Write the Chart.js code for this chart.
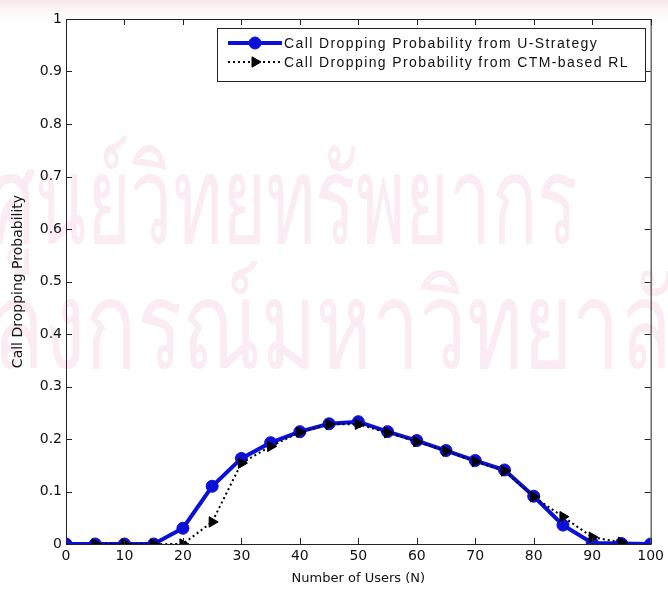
<!DOCTYPE html>
<html>
<head>
<meta charset="utf-8">
<script src="https://cdn.jsdelivr.net/npm/chart.js@4/dist/chart.umd.min.js"></script>
<style>
  html, body { margin: 0; padding: 0; background: #fff; }
  #wrap { width: 668px; height: 593px; }
</style>
</head>
<body>
<div id="wrap"><canvas id="cdp"></canvas></div>
<script>
var users = [0, 5, 10, 15, 20, 25, 30, 35, 40, 45, 50, 55, 60, 65, 70, 75, 80, 85, 90, 95, 100];
var uStrategy = [0, 0, 0, 0, 0.030, 0.110, 0.163, 0.193, 0.214, 0.229, 0.233, 0.214, 0.197, 0.178, 0.159, 0.141, 0.091, 0.036, 0.002, 0.001, 0];
var ctmRL = [null, 0, 0, 0, 0, 0.042, 0.154, 0.186, 0.213, 0.228, 0.228, 0.212, 0.195, 0.177, 0.157, 0.139, 0.090, 0.052, 0.013, 0.003, null];
var seriesNames = ['Call Dropping Probability from U-Strategy', 'Call Dropping Probability from CTM-based RL'];
var watermarkLines = ['ศูนย์วิทยทรัพยากร', 'จุฬาลงกรณ์มหาวิทยาลัย'];

var FONT = '"DejaVu Sans", "Liberation Sans", Arial, sans-serif';
var LEG_FONT = '14px "Liberation Sans", Arial, Helvetica, sans-serif';

function pts(ys) {
  return users.map(function (x, i) { return { x: x, y: ys[i] }; });
}

// faint watermark of the source document
var watermark = {
  id: 'watermark',
  beforeDraw: function (chart) {
    var c = chart.ctx;
    c.save();
    c.fillStyle = '#ffffff';
    c.fillRect(0, 0, chart.width, chart.height);
    var g = c.createLinearGradient(0, 0, 0, 28);
    g.addColorStop(0, '#f8e7ea');
    g.addColorStop(1, 'rgba(255,255,255,0)');
    c.fillStyle = g;
    c.fillRect(0, 0, chart.width, 28);
    c.fillStyle = '#faecf2';
    c.font = '122px "Noto Sans", "DejaVu Sans", sans-serif';
    c.textBaseline = 'alphabetic';
    // [x start, x end, baseline]
    var spots = [[-12, 578, 243], [-163, 721, 368]];
    watermarkLines.forEach(function (s, i) {
      var w = c.measureText(s).width;
      var p = spots[i];
      c.save();
      c.translate(p[0], p[2]);
      c.scale((p[1] - p[0]) / w, 1);
      c.fillText(s, 0, 0);
      c.restore();
    });
    c.restore();
  }
};

// MATLAB style box with inward ticks and a framed legend
var matlabBox = {
  id: 'matlabBox',
  afterDraw: function (chart) {
    var c = chart.ctx, a = chart.chartArea;
    var xs = chart.scales.x, ys = chart.scales.y;
    c.save();
    c.strokeStyle = '#222';
    c.lineWidth = 1;
    c.strokeRect(a.left + 0.5, a.top + 0.5, a.right - a.left, a.bottom - a.top);
    c.beginPath();
    xs.ticks.forEach(function (t) {
      var px = Math.round(xs.getPixelForValue(t.value)) + 0.5;
      c.moveTo(px, a.bottom); c.lineTo(px, a.bottom - 6);
      c.moveTo(px, a.top); c.lineTo(px, a.top + 6);
    });
    ys.ticks.forEach(function (t) {
      var py = Math.round(ys.getPixelForValue(t.value)) + 0.5;
      c.moveTo(a.left, py); c.lineTo(a.left + 6, py);
      c.moveTo(a.right, py); c.lineTo(a.right - 6, py);
    });
    c.stroke();

    // legend
    var bx = 217, by = 28, bw = 428, bh = 53;
    c.fillStyle = '#ffffff';
    c.fillRect(bx, by, bw, bh);
    c.strokeStyle = '#222';
    c.strokeRect(bx + 0.5, by + 0.5, bw, bh);
    var rows = [43, 62];
    chart.data.datasets.forEach(function (ds, i) {
      var y = rows[i];
      c.save();
      c.strokeStyle = ds.borderColor;
      c.lineWidth = ds.borderWidth;
      c.setLineDash(ds.borderDash || []);
      c.beginPath();
      c.moveTo(228, y); c.lineTo(282, y);
      c.stroke();
      c.restore();
      c.fillStyle = ds.pointBackgroundColor;
      c.strokeStyle = ds.pointBorderColor;
      c.lineWidth = 1;
      Chart.helpers.drawPoint(c, {
        pointStyle: ds.pointStyle, rotation: ds.pointRotation || 0,
        radius: ds.pointRadius, borderWidth: 1
      }, 255, y);
      c.fillStyle = '#111';
      c.font = LEG_FONT;
      c.letterSpacing = '1.4px';
      c.textBaseline = 'middle';
      c.fillText(ds.label, 284, y + 1);
      c.letterSpacing = '0px';
    });
    c.restore();
  }
};

new Chart(document.getElementById('cdp'), {
  type: 'line',
  data: {
    datasets: [{
      label: seriesNames[0],
      data: pts(uStrategy),
      borderColor: '#0a10d8',
      backgroundColor: '#0a10d8',
      borderWidth: 4,
      pointStyle: 'circle',
      pointRadius: 6,
      pointBorderWidth: 1,
      pointBackgroundColor: '#0a10d8',
      pointBorderColor: '#0a10d8',
      order: 2
    }, {
      label: seriesNames[1],
      data: pts(ctmRL),
      borderColor: '#000000',
      backgroundColor: '#000000',
      borderWidth: 2,
      borderDash: [2, 3],
      pointStyle: 'triangle',
      pointRotation: 90,
      pointRadius: 6,
      pointBorderWidth: 1,
      pointBackgroundColor: '#000000',
      pointBorderColor: '#000000',
      spanGaps: false,
      order: 1
    }]
  },
  options: {
    responsive: true,
    maintainAspectRatio: false,
    animation: false,
    layout: { padding: { left: 0, top: 19, right: 16, bottom: 0 } },
    plugins: { legend: { display: false }, tooltip: { enabled: false } },
    elements: { line: { tension: 0 } },
    scales: {
      x: {
        type: 'linear', min: 0, max: 100,
        grid: { display: false, drawTicks: false },
        border: { display: false },
        ticks: { stepSize: 10, padding: 4, color: '#111', font: { family: FONT, size: 14 } },
        title: { display: true, text: 'Number of Users (N)', color: '#111', padding: { top: 2, bottom: 7 }, font: { family: FONT, size: 13 } },
        afterFit: function (s) { s.height = 49; }
      },
      y: {
        type: 'linear', min: 0, max: 1,
        grid: { display: false, drawTicks: false },
        border: { display: false },
        ticks: {
          stepSize: 0.1, padding: 4, color: '#111', font: { family: FONT, size: 14 },
          callback: function (v) { return String(Math.round(v * 10) / 10); }
        },
        title: { display: true, text: 'Call Dropping Probability', color: '#111', padding: { top: 10, bottom: 0 }, font: { family: FONT, size: 14 } },
        afterFit: function (s) { s.width = 66; }
      }
    }
  },
  plugins: [watermark, matlabBox]
});
</script>
</body>
</html>
